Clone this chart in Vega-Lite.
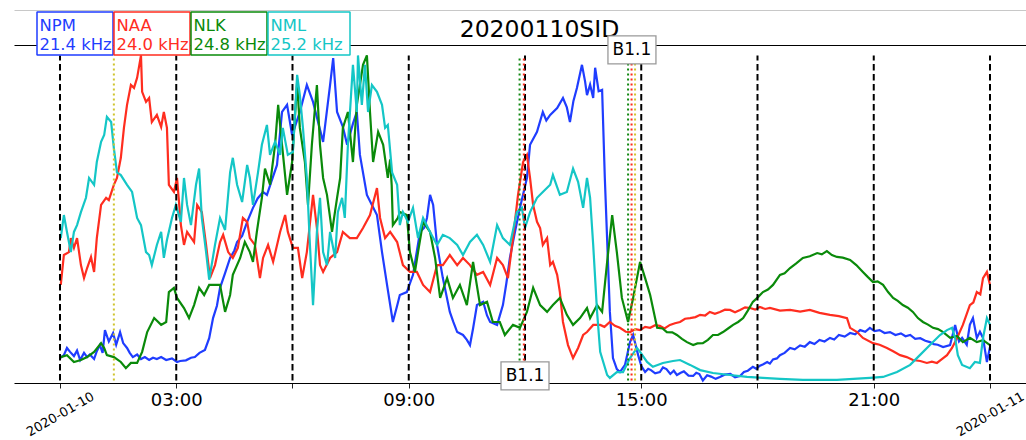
{
  "$schema": "https://vega.github.io/schema/vega-lite/v6.json",
  "autosize": "none",
  "width": 1012,
  "height": 338,
  "padding": {"left": 14, "top": 45, "right": 0, "bottom": 57},
  "background": "white",
  "config": {
    "font": "DejaVu Sans",
    "view": {"stroke": null},
    "axis": {"grid": false, "labelFont": "DejaVu Sans", "titleFont": "DejaVu Sans", "labelColor": "black", "tickColor": "#222222", "domainColor": "black"}
  },
  "datasets": {
    "sid": [
      {"s":"NPM","h":0.00,"v":0.069},{"s":"NPM","h":0.10,"v":0.078},{"s":"NPM","h":0.18,"v":0.100},{"s":"NPM","h":0.26,"v":0.088},{"s":"NPM","h":0.36,"v":0.075},{"s":"NPM","h":0.44,"v":0.092},{"s":"NPM","h":0.52,"v":0.063},{"s":"NPM","h":0.62,"v":0.085},{"s":"NPM","h":0.70,"v":0.072},{"s":"NPM","h":0.77,"v":0.080},{"s":"NPM","h":0.88,"v":0.066},{"s":"NPM","h":0.95,"v":0.090},{"s":"NPM","h":1.03,"v":0.109},{"s":"NPM","h":1.10,"v":0.085},{"s":"NPM","h":1.16,"v":0.155},{"s":"NPM","h":1.26,"v":0.120},{"s":"NPM","h":1.37,"v":0.146},{"s":"NPM","h":1.45,"v":0.110},{"s":"NPM","h":1.55,"v":0.149},{"s":"NPM","h":1.63,"v":0.115},{"s":"NPM","h":1.73,"v":0.100},{"s":"NPM","h":1.80,"v":0.085},{"s":"NPM","h":1.88,"v":0.072},{"s":"NPM","h":1.99,"v":0.080},{"s":"NPM","h":2.09,"v":0.066},{"s":"NPM","h":2.19,"v":0.072},{"s":"NPM","h":2.30,"v":0.063},{"s":"NPM","h":2.40,"v":0.070},{"s":"NPM","h":2.50,"v":0.066},{"s":"NPM","h":2.61,"v":0.072},{"s":"NPM","h":2.74,"v":0.063},{"s":"NPM","h":2.89,"v":0.068},{"s":"NPM","h":3.02,"v":0.057},{"s":"NPM","h":3.10,"v":0.060},{"s":"NPM","h":3.25,"v":0.062},{"s":"NPM","h":3.38,"v":0.070},{"s":"NPM","h":3.48,"v":0.072},{"s":"NPM","h":3.60,"v":0.085},{"s":"NPM","h":3.74,"v":0.094},{"s":"NPM","h":3.85,"v":0.130},{"s":"NPM","h":3.95,"v":0.192},{"s":"NPM","h":4.05,"v":0.230},{"s":"NPM","h":4.13,"v":0.285},{"s":"NPM","h":4.26,"v":0.330},{"s":"NPM","h":4.39,"v":0.377},{"s":"NPM","h":4.50,"v":0.400},{"s":"NPM","h":4.57,"v":0.426},{"s":"NPM","h":4.70,"v":0.445},{"s":"NPM","h":4.83,"v":0.488},{"s":"NPM","h":4.98,"v":0.531},{"s":"NPM","h":5.10,"v":0.560},{"s":"NPM","h":5.24,"v":0.580},{"s":"NPM","h":5.34,"v":0.571},{"s":"NPM","h":5.45,"v":0.610},{"s":"NPM","h":5.60,"v":0.663},{"s":"NPM","h":5.73,"v":0.826},{"s":"NPM","h":5.86,"v":0.848},{"s":"NPM","h":5.99,"v":0.755},{"s":"NPM","h":6.19,"v":0.826},{"s":"NPM","h":6.37,"v":0.909},{"s":"NPM","h":6.53,"v":0.857},{"s":"NPM","h":6.65,"v":0.800},{"s":"NPM","h":6.79,"v":0.734},{"s":"NPM","h":6.97,"v":0.909},{"s":"NPM","h":7.05,"v":0.992},{"s":"NPM","h":7.15,"v":0.826},{"s":"NPM","h":7.30,"v":0.780},{"s":"NPM","h":7.41,"v":0.725},{"s":"NPM","h":7.56,"v":0.790},{"s":"NPM","h":7.66,"v":0.826},{"s":"NPM","h":7.74,"v":0.694},{"s":"NPM","h":7.92,"v":0.571},{"s":"NPM","h":8.05,"v":0.540},{"s":"NPM","h":8.18,"v":0.509},{"s":"NPM","h":8.31,"v":0.395},{"s":"NPM","h":8.44,"v":0.294},{"s":"NPM","h":8.59,"v":0.180},{"s":"NPM","h":8.70,"v":0.230},{"s":"NPM","h":8.77,"v":0.263},{"s":"NPM","h":8.95,"v":0.272},{"s":"NPM","h":9.11,"v":0.325},{"s":"NPM","h":9.29,"v":0.457},{"s":"NPM","h":9.40,"v":0.470},{"s":"NPM","h":9.47,"v":0.500},{"s":"NPM","h":9.55,"v":0.571},{"s":"NPM","h":9.63,"v":0.540},{"s":"NPM","h":9.73,"v":0.417},{"s":"NPM","h":9.88,"v":0.315},{"s":"NPM","h":10.06,"v":0.211},{"s":"NPM","h":10.15,"v":0.180},{"s":"NPM","h":10.25,"v":0.149},{"s":"NPM","h":10.40,"v":0.140},{"s":"NPM","h":10.50,"v":0.125},{"s":"NPM","h":10.58,"v":0.109},{"s":"NPM","h":10.66,"v":0.160},{"s":"NPM","h":10.76,"v":0.232},{"s":"NPM","h":10.92,"v":0.242},{"s":"NPM","h":11.02,"v":0.200},{"s":"NPM","h":11.10,"v":0.180},{"s":"NPM","h":11.28,"v":0.171},{"s":"NPM","h":11.43,"v":0.232},{"s":"NPM","h":11.52,"v":0.300},{"s":"NPM","h":11.61,"v":0.377},{"s":"NPM","h":11.74,"v":0.457},{"s":"NPM","h":11.87,"v":0.531},{"s":"NPM","h":12.05,"v":0.623},{"s":"NPM","h":12.13,"v":0.725},{"s":"NPM","h":12.31,"v":0.765},{"s":"NPM","h":12.46,"v":0.826},{"s":"NPM","h":12.55,"v":0.800},{"s":"NPM","h":12.65,"v":0.817},{"s":"NPM","h":12.83,"v":0.838},{"s":"NPM","h":12.98,"v":0.869},{"s":"NPM","h":13.08,"v":0.840},{"s":"NPM","h":13.16,"v":0.795},{"s":"NPM","h":13.25,"v":0.860},{"s":"NPM","h":13.34,"v":0.900},{"s":"NPM","h":13.47,"v":0.971},{"s":"NPM","h":13.55,"v":0.920},{"s":"NPM","h":13.60,"v":0.878},{"s":"NPM","h":13.68,"v":0.910},{"s":"NPM","h":13.76,"v":0.869},{"s":"NPM","h":13.81,"v":0.962},{"s":"NPM","h":13.90,"v":0.890},{"s":"NPM","h":13.99,"v":0.894},{"s":"NPM","h":14.06,"v":0.623},{"s":"NPM","h":14.19,"v":0.211},{"s":"NPM","h":14.27,"v":0.069},{"s":"NPM","h":14.37,"v":0.035},{"s":"NPM","h":14.45,"v":0.026},{"s":"NPM","h":14.58,"v":0.048},{"s":"NPM","h":14.71,"v":0.118},{"s":"NPM","h":14.79,"v":0.140},{"s":"NPM","h":14.92,"v":0.078},{"s":"NPM","h":15.00,"v":0.045},{"s":"NPM","h":15.10,"v":0.026},{"s":"NPM","h":15.18,"v":0.036},{"s":"NPM","h":15.25,"v":0.032},{"s":"NPM","h":15.36,"v":0.022},{"s":"NPM","h":15.48,"v":0.026},{"s":"NPM","h":15.56,"v":0.040},{"s":"NPM","h":15.65,"v":0.035},{"s":"NPM","h":15.75,"v":0.020},{"s":"NPM","h":15.84,"v":0.030},{"s":"NPM","h":15.92,"v":0.017},{"s":"NPM","h":16.02,"v":0.024},{"s":"NPM","h":16.10,"v":0.028},{"s":"NPM","h":16.22,"v":0.015},{"s":"NPM","h":16.34,"v":0.014},{"s":"NPM","h":16.42,"v":0.024},{"s":"NPM","h":16.50,"v":0.020},{"s":"NPM","h":16.59,"v":0.000},{"s":"NPM","h":16.70,"v":0.016},{"s":"NPM","h":16.80,"v":0.012},{"s":"NPM","h":16.92,"v":0.005},{"s":"NPM","h":17.03,"v":0.011},{"s":"NPM","h":17.15,"v":0.018},{"s":"NPM","h":17.30,"v":0.020},{"s":"NPM","h":17.42,"v":0.010},{"s":"NPM","h":17.55,"v":0.014},{"s":"NPM","h":17.65,"v":0.026},{"s":"NPM","h":17.75,"v":0.030},{"s":"NPM","h":17.88,"v":0.042},{"s":"NPM","h":17.97,"v":0.036},{"s":"NPM","h":18.05,"v":0.045},{"s":"NPM","h":18.15,"v":0.050},{"s":"NPM","h":18.25,"v":0.057},{"s":"NPM","h":18.32,"v":0.052},{"s":"NPM","h":18.40,"v":0.065},{"s":"NPM","h":18.50,"v":0.068},{"s":"NPM","h":18.58,"v":0.078},{"s":"NPM","h":18.70,"v":0.085},{"s":"NPM","h":18.84,"v":0.100},{"s":"NPM","h":18.96,"v":0.096},{"s":"NPM","h":19.10,"v":0.108},{"s":"NPM","h":19.22,"v":0.104},{"s":"NPM","h":19.35,"v":0.118},{"s":"NPM","h":19.47,"v":0.112},{"s":"NPM","h":19.60,"v":0.125},{"s":"NPM","h":19.73,"v":0.120},{"s":"NPM","h":19.87,"v":0.131},{"s":"NPM","h":19.98,"v":0.126},{"s":"NPM","h":20.10,"v":0.140},{"s":"NPM","h":20.25,"v":0.135},{"s":"NPM","h":20.39,"v":0.146},{"s":"NPM","h":20.52,"v":0.142},{"s":"NPM","h":20.65,"v":0.155},{"s":"NPM","h":20.78,"v":0.150},{"s":"NPM","h":20.90,"v":0.162},{"s":"NPM","h":21.02,"v":0.152},{"s":"NPM","h":21.15,"v":0.155},{"s":"NPM","h":21.28,"v":0.146},{"s":"NPM","h":21.42,"v":0.149},{"s":"NPM","h":21.56,"v":0.140},{"s":"NPM","h":21.70,"v":0.145},{"s":"NPM","h":21.82,"v":0.136},{"s":"NPM","h":21.94,"v":0.140},{"s":"NPM","h":22.07,"v":0.128},{"s":"NPM","h":22.20,"v":0.130},{"s":"NPM","h":22.33,"v":0.122},{"s":"NPM","h":22.45,"v":0.118},{"s":"NPM","h":22.55,"v":0.112},{"s":"NPM","h":22.65,"v":0.110},{"s":"NPM","h":22.79,"v":0.103},{"s":"NPM","h":22.97,"v":0.109},{"s":"NPM","h":23.10,"v":0.171},{"s":"NPM","h":23.20,"v":0.120},{"s":"NPM","h":23.28,"v":0.131},{"s":"NPM","h":23.40,"v":0.110},{"s":"NPM","h":23.48,"v":0.171},{"s":"NPM","h":23.56,"v":0.192},{"s":"NPM","h":23.66,"v":0.131},{"s":"NPM","h":23.74,"v":0.150},{"s":"NPM","h":23.82,"v":0.131},{"s":"NPM","h":23.92,"v":0.057},{"s":"NPM","h":24.00,"v":0.103},
      {"s":"NAA","h":0.02,"v":0.294},{"s":"NAA","h":0.10,"v":0.386},{"s":"NAA","h":0.23,"v":0.395},{"s":"NAA","h":0.28,"v":0.438},{"s":"NAA","h":0.36,"v":0.408},{"s":"NAA","h":0.44,"v":0.438},{"s":"NAA","h":0.54,"v":0.355},{"s":"NAA","h":0.62,"v":0.315},{"s":"NAA","h":0.70,"v":0.346},{"s":"NAA","h":0.80,"v":0.380},{"s":"NAA","h":0.88,"v":0.334},{"s":"NAA","h":0.95,"v":0.438},{"s":"NAA","h":1.06,"v":0.540},{"s":"NAA","h":1.19,"v":0.562},{"s":"NAA","h":1.26,"v":0.555},{"s":"NAA","h":1.39,"v":0.602},{"s":"NAA","h":1.47,"v":0.623},{"s":"NAA","h":1.57,"v":0.685},{"s":"NAA","h":1.65,"v":0.777},{"s":"NAA","h":1.73,"v":0.848},{"s":"NAA","h":1.83,"v":0.909},{"s":"NAA","h":1.91,"v":0.900},{"s":"NAA","h":1.99,"v":0.931},{"s":"NAA","h":2.09,"v":1.000},{"s":"NAA","h":2.12,"v":0.888},{"s":"NAA","h":2.22,"v":0.857},{"s":"NAA","h":2.30,"v":0.869},{"s":"NAA","h":2.37,"v":0.795},{"s":"NAA","h":2.50,"v":0.817},{"s":"NAA","h":2.61,"v":0.780},{"s":"NAA","h":2.68,"v":0.826},{"s":"NAA","h":2.76,"v":0.777},{"s":"NAA","h":2.81,"v":0.602},{"s":"NAA","h":2.94,"v":0.580},{"s":"NAA","h":3.02,"v":0.623},{"s":"NAA","h":3.12,"v":0.478},{"s":"NAA","h":3.20,"v":0.417},{"s":"NAA","h":3.28,"v":0.457},{"s":"NAA","h":3.46,"v":0.426},{"s":"NAA","h":3.54,"v":0.540},{"s":"NAA","h":3.66,"v":0.518},{"s":"NAA","h":3.77,"v":0.417},{"s":"NAA","h":3.87,"v":0.315},{"s":"NAA","h":4.00,"v":0.355},{"s":"NAA","h":4.13,"v":0.426},{"s":"NAA","h":4.21,"v":0.448},{"s":"NAA","h":4.34,"v":0.395},{"s":"NAA","h":4.46,"v":0.377},{"s":"NAA","h":4.59,"v":0.408},{"s":"NAA","h":4.72,"v":0.500},{"s":"NAA","h":4.83,"v":0.488},{"s":"NAA","h":4.90,"v":0.438},{"s":"NAA","h":5.03,"v":0.417},{"s":"NAA","h":5.16,"v":0.315},{"s":"NAA","h":5.24,"v":0.377},{"s":"NAA","h":5.37,"v":0.417},{"s":"NAA","h":5.50,"v":0.365},{"s":"NAA","h":5.68,"v":0.457},{"s":"NAA","h":5.81,"v":0.509},{"s":"NAA","h":5.88,"v":0.457},{"s":"NAA","h":6.01,"v":0.408},{"s":"NAA","h":6.14,"v":0.408},{"s":"NAA","h":6.25,"v":0.315},{"s":"NAA","h":6.37,"v":0.395},{"s":"NAA","h":6.53,"v":0.571},{"s":"NAA","h":6.63,"v":0.469},{"s":"NAA","h":6.71,"v":0.355},{"s":"NAA","h":6.79,"v":0.334},{"s":"NAA","h":6.97,"v":0.377},{"s":"NAA","h":7.15,"v":0.395},{"s":"NAA","h":7.30,"v":0.457},{"s":"NAA","h":7.48,"v":0.438},{"s":"NAA","h":7.66,"v":0.438},{"s":"NAA","h":7.82,"v":0.469},{"s":"NAA","h":8.00,"v":0.509},{"s":"NAA","h":8.18,"v":0.592},{"s":"NAA","h":8.26,"v":0.500},{"s":"NAA","h":8.39,"v":0.438},{"s":"NAA","h":8.52,"v":0.457},{"s":"NAA","h":8.70,"v":0.426},{"s":"NAA","h":8.85,"v":0.355},{"s":"NAA","h":9.03,"v":0.334},{"s":"NAA","h":9.21,"v":0.334},{"s":"NAA","h":9.37,"v":0.294},{"s":"NAA","h":9.55,"v":0.272},{"s":"NAA","h":9.73,"v":0.355},{"s":"NAA","h":9.88,"v":0.355},{"s":"NAA","h":10.06,"v":0.386},{"s":"NAA","h":10.25,"v":0.355},{"s":"NAA","h":10.40,"v":0.377},{"s":"NAA","h":10.58,"v":0.355},{"s":"NAA","h":10.76,"v":0.325},{"s":"NAA","h":10.92,"v":0.334},{"s":"NAA","h":11.10,"v":0.294},{"s":"NAA","h":11.28,"v":0.377},{"s":"NAA","h":11.43,"v":0.355},{"s":"NAA","h":11.56,"v":0.315},{"s":"NAA","h":11.69,"v":0.438},{"s":"NAA","h":11.82,"v":0.571},{"s":"NAA","h":11.95,"v":0.672},{"s":"NAA","h":12.05,"v":0.694},{"s":"NAA","h":12.13,"v":0.623},{"s":"NAA","h":12.21,"v":0.540},{"s":"NAA","h":12.31,"v":0.488},{"s":"NAA","h":12.39,"v":0.469},{"s":"NAA","h":12.46,"v":0.417},{"s":"NAA","h":12.57,"v":0.438},{"s":"NAA","h":12.65,"v":0.355},{"s":"NAA","h":12.72,"v":0.365},{"s":"NAA","h":12.83,"v":0.325},{"s":"NAA","h":12.90,"v":0.272},{"s":"NAA","h":12.98,"v":0.180},{"s":"NAA","h":13.11,"v":0.109},{"s":"NAA","h":13.24,"v":0.069},{"s":"NAA","h":13.37,"v":0.100},{"s":"NAA","h":13.50,"v":0.140},{"s":"NAA","h":13.60,"v":0.149},{"s":"NAA","h":13.76,"v":0.171},{"s":"NAA","h":13.94,"v":0.171},{"s":"NAA","h":14.05,"v":0.165},{"s":"NAA","h":14.19,"v":0.180},{"s":"NAA","h":14.32,"v":0.168},{"s":"NAA","h":14.45,"v":0.162},{"s":"NAA","h":14.60,"v":0.150},{"s":"NAA","h":14.71,"v":0.149},{"s":"NAA","h":14.85,"v":0.158},{"s":"NAA","h":14.97,"v":0.155},{"s":"NAA","h":15.10,"v":0.165},{"s":"NAA","h":15.23,"v":0.162},{"s":"NAA","h":15.36,"v":0.170},{"s":"NAA","h":15.48,"v":0.168},{"s":"NAA","h":15.60,"v":0.160},{"s":"NAA","h":15.74,"v":0.171},{"s":"NAA","h":15.87,"v":0.176},{"s":"NAA","h":16.00,"v":0.180},{"s":"NAA","h":16.13,"v":0.190},{"s":"NAA","h":16.26,"v":0.192},{"s":"NAA","h":16.40,"v":0.195},{"s":"NAA","h":16.52,"v":0.202},{"s":"NAA","h":16.65,"v":0.200},{"s":"NAA","h":16.77,"v":0.211},{"s":"NAA","h":16.90,"v":0.205},{"s":"NAA","h":17.03,"v":0.211},{"s":"NAA","h":17.16,"v":0.218},{"s":"NAA","h":17.29,"v":0.217},{"s":"NAA","h":17.42,"v":0.210},{"s":"NAA","h":17.55,"v":0.217},{"s":"NAA","h":17.68,"v":0.225},{"s":"NAA","h":17.81,"v":0.223},{"s":"NAA","h":17.94,"v":0.218},{"s":"NAA","h":18.06,"v":0.226},{"s":"NAA","h":18.20,"v":0.220},{"s":"NAA","h":18.32,"v":0.223},{"s":"NAA","h":18.58,"v":0.215},{"s":"NAA","h":18.84,"v":0.217},{"s":"NAA","h":19.10,"v":0.212},{"s":"NAA","h":19.35,"v":0.217},{"s":"NAA","h":19.60,"v":0.208},{"s":"NAA","h":19.87,"v":0.202},{"s":"NAA","h":20.10,"v":0.198},{"s":"NAA","h":20.31,"v":0.192},{"s":"NAA","h":20.39,"v":0.162},{"s":"NAA","h":20.57,"v":0.149},{"s":"NAA","h":20.72,"v":0.131},{"s":"NAA","h":20.98,"v":0.115},{"s":"NAA","h":21.15,"v":0.110},{"s":"NAA","h":21.34,"v":0.100},{"s":"NAA","h":21.50,"v":0.090},{"s":"NAA","h":21.68,"v":0.078},{"s":"NAA","h":21.85,"v":0.072},{"s":"NAA","h":22.01,"v":0.063},{"s":"NAA","h":22.20,"v":0.060},{"s":"NAA","h":22.37,"v":0.054},{"s":"NAA","h":22.50,"v":0.058},{"s":"NAA","h":22.63,"v":0.054},{"s":"NAA","h":22.75,"v":0.065},{"s":"NAA","h":22.89,"v":0.078},{"s":"NAA","h":23.02,"v":0.100},{"s":"NAA","h":23.15,"v":0.131},{"s":"NAA","h":23.30,"v":0.171},{"s":"NAA","h":23.48,"v":0.232},{"s":"NAA","h":23.57,"v":0.240},{"s":"NAA","h":23.66,"v":0.272},{"s":"NAA","h":23.75,"v":0.265},{"s":"NAA","h":23.82,"v":0.315},{"s":"NAA","h":23.92,"v":0.334},{"s":"NAA","h":24.00,"v":0.294},
      {"s":"NLK","h":0.02,"v":0.072},{"s":"NLK","h":0.18,"v":0.078},{"s":"NLK","h":0.36,"v":0.057},{"s":"NLK","h":0.54,"v":0.063},{"s":"NLK","h":0.70,"v":0.072},{"s":"NLK","h":0.88,"v":0.088},{"s":"NLK","h":1.06,"v":0.115},{"s":"NLK","h":1.14,"v":0.100},{"s":"NLK","h":1.21,"v":0.078},{"s":"NLK","h":1.39,"v":0.072},{"s":"NLK","h":1.57,"v":0.057},{"s":"NLK","h":1.70,"v":0.038},{"s":"NLK","h":1.83,"v":0.054},{"s":"NLK","h":1.99,"v":0.054},{"s":"NLK","h":2.12,"v":0.088},{"s":"NLK","h":2.25,"v":0.149},{"s":"NLK","h":2.43,"v":0.192},{"s":"NLK","h":2.61,"v":0.171},{"s":"NLK","h":2.74,"v":0.180},{"s":"NLK","h":2.81,"v":0.272},{"s":"NLK","h":2.94,"v":0.285},{"s":"NLK","h":3.02,"v":0.254},{"s":"NLK","h":3.20,"v":0.223},{"s":"NLK","h":3.33,"v":0.192},{"s":"NLK","h":3.46,"v":0.232},{"s":"NLK","h":3.59,"v":0.285},{"s":"NLK","h":3.72,"v":0.263},{"s":"NLK","h":3.85,"v":0.294},{"s":"NLK","h":3.95,"v":0.294},{"s":"NLK","h":4.13,"v":0.294},{"s":"NLK","h":4.26,"v":0.211},{"s":"NLK","h":4.39,"v":0.263},{"s":"NLK","h":4.46,"v":0.325},{"s":"NLK","h":4.65,"v":0.377},{"s":"NLK","h":4.77,"v":0.426},{"s":"NLK","h":4.90,"v":0.395},{"s":"NLK","h":4.98,"v":0.365},{"s":"NLK","h":5.08,"v":0.457},{"s":"NLK","h":5.21,"v":0.562},{"s":"NLK","h":5.29,"v":0.652},{"s":"NLK","h":5.42,"v":0.602},{"s":"NLK","h":5.55,"v":0.725},{"s":"NLK","h":5.63,"v":0.848},{"s":"NLK","h":5.73,"v":0.725},{"s":"NLK","h":5.86,"v":0.571},{"s":"NLK","h":5.99,"v":0.672},{"s":"NLK","h":6.12,"v":0.918},{"s":"NLK","h":6.19,"v":0.777},{"s":"NLK","h":6.32,"v":0.672},{"s":"NLK","h":6.40,"v":0.540},{"s":"NLK","h":6.50,"v":0.725},{"s":"NLK","h":6.63,"v":0.909},{"s":"NLK","h":6.71,"v":0.725},{"s":"NLK","h":6.79,"v":0.623},{"s":"NLK","h":6.89,"v":0.571},{"s":"NLK","h":7.02,"v":0.457},{"s":"NLK","h":7.15,"v":0.562},{"s":"NLK","h":7.23,"v":0.623},{"s":"NLK","h":7.30,"v":0.777},{"s":"NLK","h":7.43,"v":0.826},{"s":"NLK","h":7.56,"v":0.672},{"s":"NLK","h":7.66,"v":0.848},{"s":"NLK","h":7.74,"v":0.909},{"s":"NLK","h":7.82,"v":0.971},{"s":"NLK","h":7.92,"v":1.000},{"s":"NLK","h":8.00,"v":0.826},{"s":"NLK","h":8.08,"v":0.672},{"s":"NLK","h":8.21,"v":0.765},{"s":"NLK","h":8.34,"v":0.725},{"s":"NLK","h":8.46,"v":0.623},{"s":"NLK","h":8.52,"v":0.680},{"s":"NLK","h":8.56,"v":0.600},{"s":"NLK","h":8.59,"v":0.478},{"s":"NLK","h":8.72,"v":0.500},{"s":"NLK","h":8.77,"v":0.518},{"s":"NLK","h":8.95,"v":0.509},{"s":"NLK","h":9.03,"v":0.395},{"s":"NLK","h":9.16,"v":0.334},{"s":"NLK","h":9.24,"v":0.395},{"s":"NLK","h":9.37,"v":0.488},{"s":"NLK","h":9.55,"v":0.457},{"s":"NLK","h":9.68,"v":0.377},{"s":"NLK","h":9.81,"v":0.254},{"s":"NLK","h":9.99,"v":0.315},{"s":"NLK","h":10.14,"v":0.254},{"s":"NLK","h":10.32,"v":0.294},{"s":"NLK","h":10.50,"v":0.232},{"s":"NLK","h":10.66,"v":0.365},{"s":"NLK","h":10.84,"v":0.232},{"s":"NLK","h":11.02,"v":0.242},{"s":"NLK","h":11.17,"v":0.180},{"s":"NLK","h":11.35,"v":0.180},{"s":"NLK","h":11.48,"v":0.140},{"s":"NLK","h":11.69,"v":0.171},{"s":"NLK","h":11.87,"v":0.162},{"s":"NLK","h":12.05,"v":0.211},{"s":"NLK","h":12.21,"v":0.285},{"s":"NLK","h":12.39,"v":0.232},{"s":"NLK","h":12.57,"v":0.211},{"s":"NLK","h":12.72,"v":0.232},{"s":"NLK","h":12.90,"v":0.254},{"s":"NLK","h":13.08,"v":0.202},{"s":"NLK","h":13.24,"v":0.171},{"s":"NLK","h":13.42,"v":0.192},{"s":"NLK","h":13.60,"v":0.223},{"s":"NLK","h":13.68,"v":0.192},{"s":"NLK","h":13.86,"v":0.232},{"s":"NLK","h":13.99,"v":0.211},{"s":"NLK","h":14.12,"v":0.365},{"s":"NLK","h":14.25,"v":0.509},{"s":"NLK","h":14.37,"v":0.395},{"s":"NLK","h":14.50,"v":0.254},{"s":"NLK","h":14.66,"v":0.180},{"s":"NLK","h":14.79,"v":0.254},{"s":"NLK","h":14.97,"v":0.365},{"s":"NLK","h":15.10,"v":0.315},{"s":"NLK","h":15.23,"v":0.263},{"s":"NLK","h":15.41,"v":0.162},{"s":"NLK","h":15.55,"v":0.160},{"s":"NLK","h":15.66,"v":0.149},{"s":"NLK","h":15.80,"v":0.148},{"s":"NLK","h":15.92,"v":0.140},{"s":"NLK","h":16.05,"v":0.128},{"s":"NLK","h":16.18,"v":0.118},{"s":"NLK","h":16.34,"v":0.109},{"s":"NLK","h":16.45,"v":0.114},{"s":"NLK","h":16.59,"v":0.115},{"s":"NLK","h":16.72,"v":0.125},{"s":"NLK","h":16.85,"v":0.140},{"s":"NLK","h":16.98,"v":0.140},{"s":"NLK","h":17.11,"v":0.149},{"s":"NLK","h":17.24,"v":0.160},{"s":"NLK","h":17.37,"v":0.171},{"s":"NLK","h":17.50,"v":0.180},{"s":"NLK","h":17.63,"v":0.192},{"s":"NLK","h":17.75,"v":0.215},{"s":"NLK","h":17.88,"v":0.242},{"s":"NLK","h":18.00,"v":0.255},{"s":"NLK","h":18.14,"v":0.272},{"s":"NLK","h":18.27,"v":0.280},{"s":"NLK","h":18.40,"v":0.294},{"s":"NLK","h":18.58,"v":0.325},{"s":"NLK","h":18.70,"v":0.330},{"s":"NLK","h":18.84,"v":0.346},{"s":"NLK","h":19.00,"v":0.360},{"s":"NLK","h":19.17,"v":0.377},{"s":"NLK","h":19.35,"v":0.382},{"s":"NLK","h":19.54,"v":0.392},{"s":"NLK","h":19.66,"v":0.388},{"s":"NLK","h":19.79,"v":0.398},{"s":"NLK","h":19.92,"v":0.386},{"s":"NLK","h":20.05,"v":0.380},{"s":"NLK","h":20.20,"v":0.378},{"s":"NLK","h":20.39,"v":0.371},{"s":"NLK","h":20.55,"v":0.355},{"s":"NLK","h":20.72,"v":0.334},{"s":"NLK","h":20.85,"v":0.318},{"s":"NLK","h":20.98,"v":0.303},{"s":"NLK","h":21.10,"v":0.305},{"s":"NLK","h":21.24,"v":0.294},{"s":"NLK","h":21.37,"v":0.272},{"s":"NLK","h":21.50,"v":0.254},{"s":"NLK","h":21.62,"v":0.245},{"s":"NLK","h":21.75,"v":0.232},{"s":"NLK","h":21.88,"v":0.224},{"s":"NLK","h":22.01,"v":0.211},{"s":"NLK","h":22.14,"v":0.192},{"s":"NLK","h":22.27,"v":0.180},{"s":"NLK","h":22.40,"v":0.172},{"s":"NLK","h":22.53,"v":0.162},{"s":"NLK","h":22.66,"v":0.158},{"s":"NLK","h":22.79,"v":0.149},{"s":"NLK","h":22.97,"v":0.131},{"s":"NLK","h":23.15,"v":0.137},{"s":"NLK","h":23.30,"v":0.118},{"s":"NLK","h":23.48,"v":0.131},{"s":"NLK","h":23.66,"v":0.118},{"s":"NLK","h":23.82,"v":0.124},{"s":"NLK","h":24.00,"v":0.109},
      {"s":"NML","h":0.02,"v":0.438},{"s":"NML","h":0.10,"v":0.509},{"s":"NML","h":0.18,"v":0.457},{"s":"NML","h":0.28,"v":0.395},{"s":"NML","h":0.36,"v":0.457},{"s":"NML","h":0.44,"v":0.478},{"s":"NML","h":0.54,"v":0.518},{"s":"NML","h":0.67,"v":0.562},{"s":"NML","h":0.75,"v":0.623},{"s":"NML","h":0.88,"v":0.602},{"s":"NML","h":0.95,"v":0.672},{"s":"NML","h":1.06,"v":0.734},{"s":"NML","h":1.14,"v":0.755},{"s":"NML","h":1.21,"v":0.811},{"s":"NML","h":1.32,"v":0.795},{"s":"NML","h":1.39,"v":0.715},{"s":"NML","h":1.47,"v":0.640},{"s":"NML","h":1.57,"v":0.632},{"s":"NML","h":1.73,"v":0.602},{"s":"NML","h":1.86,"v":0.580},{"s":"NML","h":1.99,"v":0.500},{"s":"NML","h":2.09,"v":0.478},{"s":"NML","h":2.22,"v":0.395},{"s":"NML","h":2.30,"v":0.386},{"s":"NML","h":2.37,"v":0.355},{"s":"NML","h":2.50,"v":0.417},{"s":"NML","h":2.61,"v":0.457},{"s":"NML","h":2.68,"v":0.377},{"s":"NML","h":2.76,"v":0.432},{"s":"NML","h":2.89,"v":0.500},{"s":"NML","h":2.99,"v":0.540},{"s":"NML","h":3.12,"v":0.488},{"s":"NML","h":3.20,"v":0.623},{"s":"NML","h":3.28,"v":0.540},{"s":"NML","h":3.38,"v":0.478},{"s":"NML","h":3.51,"v":0.602},{"s":"NML","h":3.59,"v":0.652},{"s":"NML","h":3.66,"v":0.500},{"s":"NML","h":3.77,"v":0.395},{"s":"NML","h":3.85,"v":0.310},{"s":"NML","h":4.00,"v":0.417},{"s":"NML","h":4.13,"v":0.500},{"s":"NML","h":4.26,"v":0.463},{"s":"NML","h":4.39,"v":0.640},{"s":"NML","h":4.46,"v":0.685},{"s":"NML","h":4.57,"v":0.602},{"s":"NML","h":4.70,"v":0.549},{"s":"NML","h":4.83,"v":0.663},{"s":"NML","h":4.90,"v":0.623},{"s":"NML","h":4.98,"v":0.540},{"s":"NML","h":5.11,"v":0.640},{"s":"NML","h":5.21,"v":0.725},{"s":"NML","h":5.34,"v":0.786},{"s":"NML","h":5.42,"v":0.694},{"s":"NML","h":5.55,"v":0.734},{"s":"NML","h":5.68,"v":0.694},{"s":"NML","h":5.75,"v":0.777},{"s":"NML","h":5.88,"v":0.694},{"s":"NML","h":6.01,"v":0.703},{"s":"NML","h":6.12,"v":0.940},{"s":"NML","h":6.19,"v":0.878},{"s":"NML","h":6.27,"v":0.777},{"s":"NML","h":6.37,"v":0.623},{"s":"NML","h":6.45,"v":0.417},{"s":"NML","h":6.53,"v":0.232},{"s":"NML","h":6.63,"v":0.457},{"s":"NML","h":6.71,"v":0.562},{"s":"NML","h":6.79,"v":0.395},{"s":"NML","h":6.89,"v":0.355},{"s":"NML","h":6.97,"v":0.457},{"s":"NML","h":7.10,"v":0.377},{"s":"NML","h":7.17,"v":0.518},{"s":"NML","h":7.28,"v":0.562},{"s":"NML","h":7.35,"v":0.500},{"s":"NML","h":7.43,"v":0.725},{"s":"NML","h":7.56,"v":0.971},{"s":"NML","h":7.66,"v":0.826},{"s":"NML","h":7.69,"v":1.000},{"s":"NML","h":7.79,"v":0.848},{"s":"NML","h":7.87,"v":0.971},{"s":"NML","h":7.95,"v":0.826},{"s":"NML","h":8.05,"v":0.909},{"s":"NML","h":8.18,"v":0.888},{"s":"NML","h":8.31,"v":0.848},{"s":"NML","h":8.39,"v":0.777},{"s":"NML","h":8.46,"v":0.786},{"s":"NML","h":8.57,"v":0.640},{"s":"NML","h":8.70,"v":0.602},{"s":"NML","h":8.77,"v":0.478},{"s":"NML","h":8.85,"v":0.518},{"s":"NML","h":8.98,"v":0.488},{"s":"NML","h":9.11,"v":0.531},{"s":"NML","h":9.24,"v":0.438},{"s":"NML","h":9.37,"v":0.500},{"s":"NML","h":9.55,"v":0.457},{"s":"NML","h":9.73,"v":0.417},{"s":"NML","h":9.88,"v":0.448},{"s":"NML","h":10.06,"v":0.438},{"s":"NML","h":10.25,"v":0.417},{"s":"NML","h":10.40,"v":0.386},{"s":"NML","h":10.58,"v":0.426},{"s":"NML","h":10.76,"v":0.448},{"s":"NML","h":10.92,"v":0.417},{"s":"NML","h":11.10,"v":0.365},{"s":"NML","h":11.28,"v":0.478},{"s":"NML","h":11.43,"v":0.438},{"s":"NML","h":11.61,"v":0.417},{"s":"NML","h":11.79,"v":0.518},{"s":"NML","h":11.92,"v":0.531},{"s":"NML","h":12.00,"v":0.469},{"s":"NML","h":12.13,"v":0.518},{"s":"NML","h":12.31,"v":0.562},{"s":"NML","h":12.46,"v":0.580},{"s":"NML","h":12.65,"v":0.602},{"s":"NML","h":12.72,"v":0.632},{"s":"NML","h":12.90,"v":0.571},{"s":"NML","h":13.08,"v":0.580},{"s":"NML","h":13.24,"v":0.652},{"s":"NML","h":13.37,"v":0.611},{"s":"NML","h":13.50,"v":0.531},{"s":"NML","h":13.60,"v":0.623},{"s":"NML","h":13.68,"v":0.562},{"s":"NML","h":13.76,"v":0.417},{"s":"NML","h":13.86,"v":0.211},{"s":"NML","h":13.94,"v":0.088},{"s":"NML","h":14.12,"v":0.017},{"s":"NML","h":14.19,"v":0.008},{"s":"NML","h":14.37,"v":0.026},{"s":"NML","h":14.53,"v":0.026},{"s":"NML","h":14.71,"v":0.069},{"s":"NML","h":14.89,"v":0.100},{"s":"NML","h":14.97,"v":0.088},{"s":"NML","h":15.15,"v":0.057},{"s":"NML","h":15.30,"v":0.042},{"s":"NML","h":15.56,"v":0.054},{"s":"NML","h":15.82,"v":0.060},{"s":"NML","h":16.00,"v":0.063},{"s":"NML","h":16.26,"v":0.048},{"s":"NML","h":16.52,"v":0.032},{"s":"NML","h":16.85,"v":0.023},{"s":"NML","h":17.29,"v":0.017},{"s":"NML","h":17.73,"v":0.011},{"s":"NML","h":18.14,"v":0.008},{"s":"NML","h":18.58,"v":0.005},{"s":"NML","h":19.17,"v":0.002},{"s":"NML","h":20.05,"v":0.002},{"s":"NML","h":20.90,"v":0.008},{"s":"NML","h":21.24,"v":0.011},{"s":"NML","h":21.60,"v":0.026},{"s":"NML","h":21.94,"v":0.048},{"s":"NML","h":22.19,"v":0.078},{"s":"NML","h":22.45,"v":0.109},{"s":"NML","h":22.71,"v":0.140},{"s":"NML","h":22.89,"v":0.155},{"s":"NML","h":23.02,"v":0.162},{"s":"NML","h":23.10,"v":0.131},{"s":"NML","h":23.17,"v":0.078},{"s":"NML","h":23.28,"v":0.048},{"s":"NML","h":23.48,"v":0.038},{"s":"NML","h":23.61,"v":0.057},{"s":"NML","h":23.74,"v":0.054},{"s":"NML","h":23.82,"v":0.131},{"s":"NML","h":23.92,"v":0.192},{"s":"NML","h":24.00,"v":0.171}
    ],
    "hours": [{"h":0},{"h":3},{"h":6},{"h":9},{"h":12},{"h":15},{"h":18},{"h":21},{"h":24}],
    "events": [
      {"t":1.39,"kind":"end"},
      {"t":11.86,"kind":"start"},{"t":11.97,"kind":"peak"},
      {"t":14.66,"kind":"start"},{"t":14.75,"kind":"peak"},{"t":14.84,"kind":"end"}
    ],
    "flares": [
      {"t":12.0,"label":"B1.1","place":"bottom"},
      {"t":14.76,"label":"B1.1","place":"top"}
    ]
  },
  "resolve": {"axis": {"x": "independent"}},
  "layer": [
    {
      "data": {"name": "sid"},
      "mark": {"type": "line", "strokeWidth": 2.2},
      "encoding": {
        "x": {"field": "h", "type": "quantitative",
          "scale": {"domain": [-1.187, 24.929], "nice": false, "zero": false},
          "axis": {"orient": "bottom", "title": null, "values": [0,3,6,9,12,15,18,21,24],
            "labelExpr": "datum.value % 6 == 3 ? (datum.value < 10 ? '0' : '') + datum.value + ':00' : ''",
            "labelFontSize": 18, "labelPadding": 3, "tickSize": 5, "tickWidth": 1, "domainWidth": 1,
            "labelOverlap": false, "labelFlush": false, "labelBound": false}},
        "y": {"field": "v", "type": "quantitative",
          "scale": {"domain": [-0.0077, 1.032], "nice": false, "zero": false},
          "axis": {"orient": "left", "title": null, "values": [0,0.2,0.4,0.6,0.8,1.0], "labels": false, "tickSize": 5, "tickWidth": 1, "domainWidth": 1}},
        "color": {"field": "s", "type": "nominal",
          "scale": {"domain": ["NPM","NAA","NLK","NML"], "range": ["#1f3dff","#ff2d1f","#0a8a0a","#14c6c6"]},
          "legend": {
            "orient": "none", "legendX": 23, "legendY": -33, "direction": "horizontal", "columns": 4, "title": null,
            "padding": 0, "offset": 0, "columnPadding": -3, "rowPadding": 0,
            "symbolType": "M-1,-0.5658H1V0.5658H-1Z", "symbolSize": 5776, "symbolStrokeWidth": 1.5, "symbolFillColor": "white", "symbolOffset": 0,
            "labelFont": "DejaVu Sans", "labelFontSize": 16.4, "labelOffset": 0, "labelLimit": 0,
            "labelExpr": "[datum.label, datum.label == 'NPM' ? '21.4 kHz' : datum.label == 'NAA' ? '24.0 kHz' : datum.label == 'NLK' ? '24.8 kHz' : '25.2 kHz']",
            "encoding": {
              "symbols": {"x": {"value": 38}, "y": {"value": 21.5}, "fill": {"value": "white"}, "strokeJoin": {"value": "bevel"},
                "shape": {"value": {"expr": "datum.value == 'NML' ? 'M-1,-0.5658H1.158V0.5658H-1Z' : 'M-1,-0.5658H1V0.5658H-1Z'"}}},
              "labels": {"x": {"value": 2.5}, "y": {"value": 19}, "baseline": {"value": "alphabetic"}, "align": {"value": "left"}, "lineHeight": {"value": 18.5}, "fill": {"value": {"expr": "scale('color', datum.value)"}}}
            }
          }
        }
      }
    },
    {
      "data": {"name": "hours"},
      "mark": {"type": "rule", "color": "black", "strokeWidth": 2, "strokeDash": [6.5, 3.5]},
      "encoding": {
        "x": {"field": "h", "type": "quantitative",
          "scale": {"domain": [-1.187, 24.929], "nice": false, "zero": false},
          "axis": {"orient": "bottom", "title": null, "values": [0, 24], "ticks": false, "domain": false,
            "labelExpr": "datum.value == 0 ? '2020-01-10' : '2020-01-11'",
            "labelAngle": -30, "labelAlign": "center", "labelBaseline": "middle", "labelPadding": 31, "labelFontSize": 13,
            "labelOverlap": false, "labelFlush": false, "labelBound": false}},
        "y": {"datum": 0, "type": "quantitative", "scale": {"domain": [-0.0077, 1.032], "nice": false, "zero": false}, "axis": null},
        "y2": {"datum": 1}
      }
    },
    {
      "data": {"name": "events"},
      "mark": {"type": "rule", "strokeWidth": 2, "strokeDash": [2, 3]},
      "encoding": {
        "x": {"field": "t", "type": "quantitative",
          "scale": {"domain": [-1.187, 24.929], "nice": false, "zero": false},
          "axis": {"orient": "top", "ticks": false, "labels": false, "domain": true, "domainColor": "black", "domainWidth": 1,
            "title": "20200110SID", "titleFontSize": 23.5, "titleFontWeight": "normal", "titleColor": "black",
            "titleX": 525, "titleY": -8.5, "titleAlign": "center", "titleBaseline": "alphabetic", "titleAngle": 0}},
        "y": {"datum": 0, "type": "quantitative", "scale": {"domain": [-0.0077, 1.032], "nice": false, "zero": false}, "axis": null},
        "y2": {"datum": 1},
        "stroke": {"field": "kind", "type": "nominal",
          "scale": {"domain": ["start","peak","end"], "range": ["#118811","#ff2a1a","#cfc42e"]}, "legend": null}
      }
    },
    {
      "data": {"name": "flares"},
      "transform": [{"filter": "datum.place == 'top'"}],
      "encoding": {
        "x": {"field": "t", "type": "quantitative",
          "scale": {"domain": [-1.187, 24.929], "nice": false, "zero": false},
          "axis": {"orient": "top", "offset": 35, "ticks": false, "labels": false, "domain": true, "domainColor": "#c8c8c8", "domainWidth": 1, "title": null}},
        "y": {"datum": 1.017, "type": "quantitative", "scale": {"domain": [-0.0077, 1.032], "nice": false, "zero": false}, "axis": null}
      },
      "layer": [
        {"mark": {"type": "point", "shape": "M-1,-0.5833H1V0.5833H-1Z", "size": 2304, "filled": true, "fill": "white", "stroke": "#999999", "strokeWidth": 1.3, "opacity": 1}},
        {"mark": {"type": "text", "fontSize": 17, "font": "DejaVu Sans", "color": "black", "align": "center", "baseline": "middle"}, "encoding": {"text": {"field": "label"}}}
      ]
    },
    {
      "data": {"name": "flares"},
      "transform": [{"filter": "datum.place == 'bottom'"}],
      "encoding": {
        "x": {"field": "t", "type": "quantitative",
          "scale": {"domain": [-1.187, 24.929], "nice": false, "zero": false}, "axis": null},
        "y": {"datum": 0.014, "type": "quantitative", "scale": {"domain": [-0.0077, 1.032], "nice": false, "zero": false}, "axis": null}
      },
      "layer": [
        {"mark": {"type": "point", "shape": "M-1,-0.5833H1V0.5833H-1Z", "size": 2304, "filled": true, "fill": "white", "stroke": "#999999", "strokeWidth": 1.3, "opacity": 1}},
        {"mark": {"type": "text", "fontSize": 17, "font": "DejaVu Sans", "color": "black", "align": "center", "baseline": "middle"}, "encoding": {"text": {"field": "label"}}}
      ]
    }
  ]
}
